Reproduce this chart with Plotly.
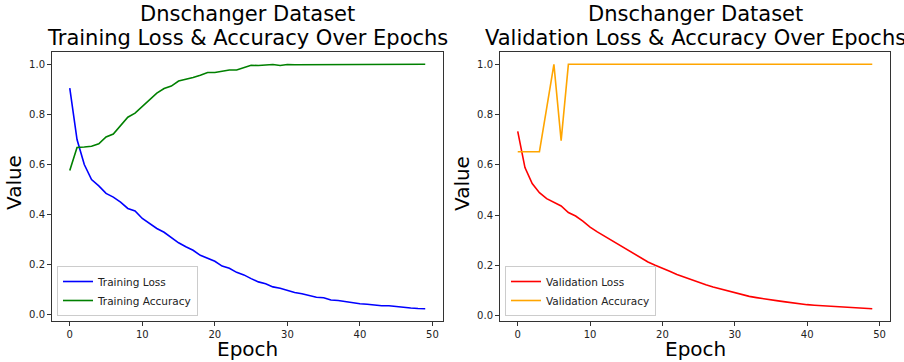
import plotly.graph_objects as go

epochs = list(range(50))

train_loss = [0.905, 0.70, 0.60, 0.54, 0.515, 0.485, 0.47, 0.45, 0.425, 0.415,
              0.385, 0.365, 0.345, 0.33, 0.31, 0.288, 0.272, 0.258, 0.238, 0.226,
              0.214, 0.195, 0.186, 0.17, 0.16, 0.145, 0.132, 0.125, 0.112, 0.107,
              0.097, 0.09, 0.085, 0.077, 0.071, 0.069, 0.06, 0.058, 0.053, 0.048,
              0.045, 0.043, 0.04, 0.037, 0.037, 0.033, 0.031, 0.028, 0.026, 0.025]

train_acc = [0.576, 0.668, 0.670, 0.673, 0.683, 0.71, 0.722, 0.756, 0.789, 0.805,
             0.832, 0.859, 0.885, 0.903, 0.913, 0.933, 0.939, 0.947, 0.956, 0.967,
             0.967, 0.973, 0.977, 0.977, 0.985, 0.996, 0.995, 0.997, 0.999, 0.995,
             0.999, 0.998, 0.998, 1.0, 1.0, 1.0, 1.0, 1.0, 1.0, 1.0,
             1.0, 1.0, 1.0, 1.0, 1.0, 1.0, 1.0, 1.0, 1.0, 1.0]

val_loss = [0.733, 0.589, 0.525, 0.489, 0.465, 0.452, 0.436, 0.41, 0.396, 0.376,
            0.352, 0.333, 0.316, 0.30, 0.28, 0.263, 0.247, 0.229, 0.213, 0.20,
            0.189, 0.176, 0.163, 0.152, 0.143, 0.133, 0.122, 0.113, 0.105, 0.097,
            0.089, 0.082, 0.076, 0.071, 0.066, 0.063, 0.058, 0.054, 0.05, 0.046,
            0.043, 0.041, 0.039, 0.036, 0.034, 0.032, 0.031, 0.029, 0.028, 0.027]

val_acc = [0.652, 0.652, 0.652, 0.652, 0.826, 1.0, 0.696, 1.0, 1.0, 1.0,
           1.0, 1.0, 1.0, 1.0, 1.0, 1.0, 1.0, 1.0, 1.0, 1.0,
           1.0, 1.0, 1.0, 1.0, 1.0, 1.0, 1.0, 1.0, 1.0, 1.0,
           1.0, 1.0, 1.0, 1.0, 1.0, 1.0, 1.0, 1.0, 1.0, 1.0,
           1.0, 1.0, 1.0, 1.0, 1.0, 1.0, 1.0, 1.0, 1.0, 1.0]

W, H = 904, 362
FONT = "DejaVu Sans"

def px(x):
    return x / W

def py(y):
    return 1 - y / H

fig = go.Figure()
fig.add_trace(go.Scatter(x=epochs, y=train_loss, mode="lines", name="Training Loss",
                         line=dict(color="blue", width=1.6), xaxis="x", yaxis="y", legend="legend"))
fig.add_trace(go.Scatter(x=epochs, y=train_acc, mode="lines", name="Training Accuracy",
                         line=dict(color="green", width=1.6), xaxis="x", yaxis="y", legend="legend"))
fig.add_trace(go.Scatter(x=epochs, y=val_loss, mode="lines", name="Validation Loss",
                         line=dict(color="red", width=1.6), xaxis="x2", yaxis="y2", legend="legend2"))
fig.add_trace(go.Scatter(x=epochs, y=val_acc, mode="lines", name="Validation Accuracy",
                         line=dict(color="orange", width=1.6), xaxis="x2", yaxis="y2", legend="legend2"))

axis_common = dict(showgrid=False, zeroline=False, showline=True, linecolor="#333",
                   linewidth=1, mirror=True, ticks="outside", ticklen=4, tickcolor="#333",
                   tickfont=dict(family=FONT, size=10, color="#222"))

ydom = [py(321), py(52)]
fig.update_layout(
    width=W, height=H,
    margin=dict(l=0, r=0, t=0, b=0),
    paper_bgcolor="white", plot_bgcolor="white",
    xaxis=dict(domain=[px(52), px(443)], range=[-2.45, 51.45], tickvals=[0, 10, 20, 30, 40, 50],
               anchor="y", **axis_common),
    yaxis=dict(domain=ydom, range=[-0.024, 1.049], tickvals=[0, 0.2, 0.4, 0.6, 0.8, 1.0],
               tickformat=".1f", anchor="x", **axis_common),
    xaxis2=dict(domain=[px(500), px(890)], range=[-2.45, 51.45], tickvals=[0, 10, 20, 30, 40, 50],
                anchor="y2", **axis_common),
    yaxis2=dict(domain=ydom, range=[-0.022, 1.049], tickvals=[0, 0.2, 0.4, 0.6, 0.8, 1.0],
                tickformat=".1f", anchor="x2", **axis_common),
    legend=dict(x=px(57), y=py(316), xanchor="left", yanchor="bottom",
                bordercolor="#ccc", borderwidth=1, bgcolor="rgba(255,255,255,0.8)",
                font=dict(family=FONT, size=10.5, color="#222"), tracegroupgap=0, itemwidth=30),
    legend2=dict(x=px(505), y=py(316), xanchor="left", yanchor="bottom",
                 bordercolor="#ccc", borderwidth=1, bgcolor="rgba(255,255,255,0.8)",
                 font=dict(family=FONT, size=10.5, color="#222"), tracegroupgap=0, itemwidth=30),
    showlegend=True,
)

annots = []
for cx, t2 in [((52 + 443) / 2, "Training Loss & Accuracy Over Epochs"),
               ((500 + 890) / 2, "Validation Loss & Accuracy Over Epochs")]:
    annots.append(dict(x=px(cx), y=py(14), xref="paper", yref="paper", text="Dnschanger Dataset",
                       showarrow=False, xanchor="center", yanchor="middle",
                       font=dict(family=FONT, size=21, color="black")))
    annots.append(dict(x=px(cx), y=py(38), xref="paper", yref="paper", text=t2,
                       showarrow=False, xanchor="center", yanchor="middle",
                       font=dict(family=FONT, size=21, color="black")))
    annots.append(dict(x=px(cx), y=py(349), xref="paper", yref="paper", text="Epoch",
                       showarrow=False, xanchor="center", yanchor="middle",
                       font=dict(family=FONT, size=20, color="black")))
for lx in [14, 462]:
    annots.append(dict(x=px(lx), y=py(183), xref="paper", yref="paper", text="Value",
                       showarrow=False, xanchor="center", yanchor="middle", textangle=-90,
                       font=dict(family=FONT, size=20, color="black")))
fig.update_layout(annotations=annots)

fig.write_html("out.html", config={"displayModeBar": False},
               post_script="document.body.style.margin='0px';document.body.style.overflow='hidden';")
